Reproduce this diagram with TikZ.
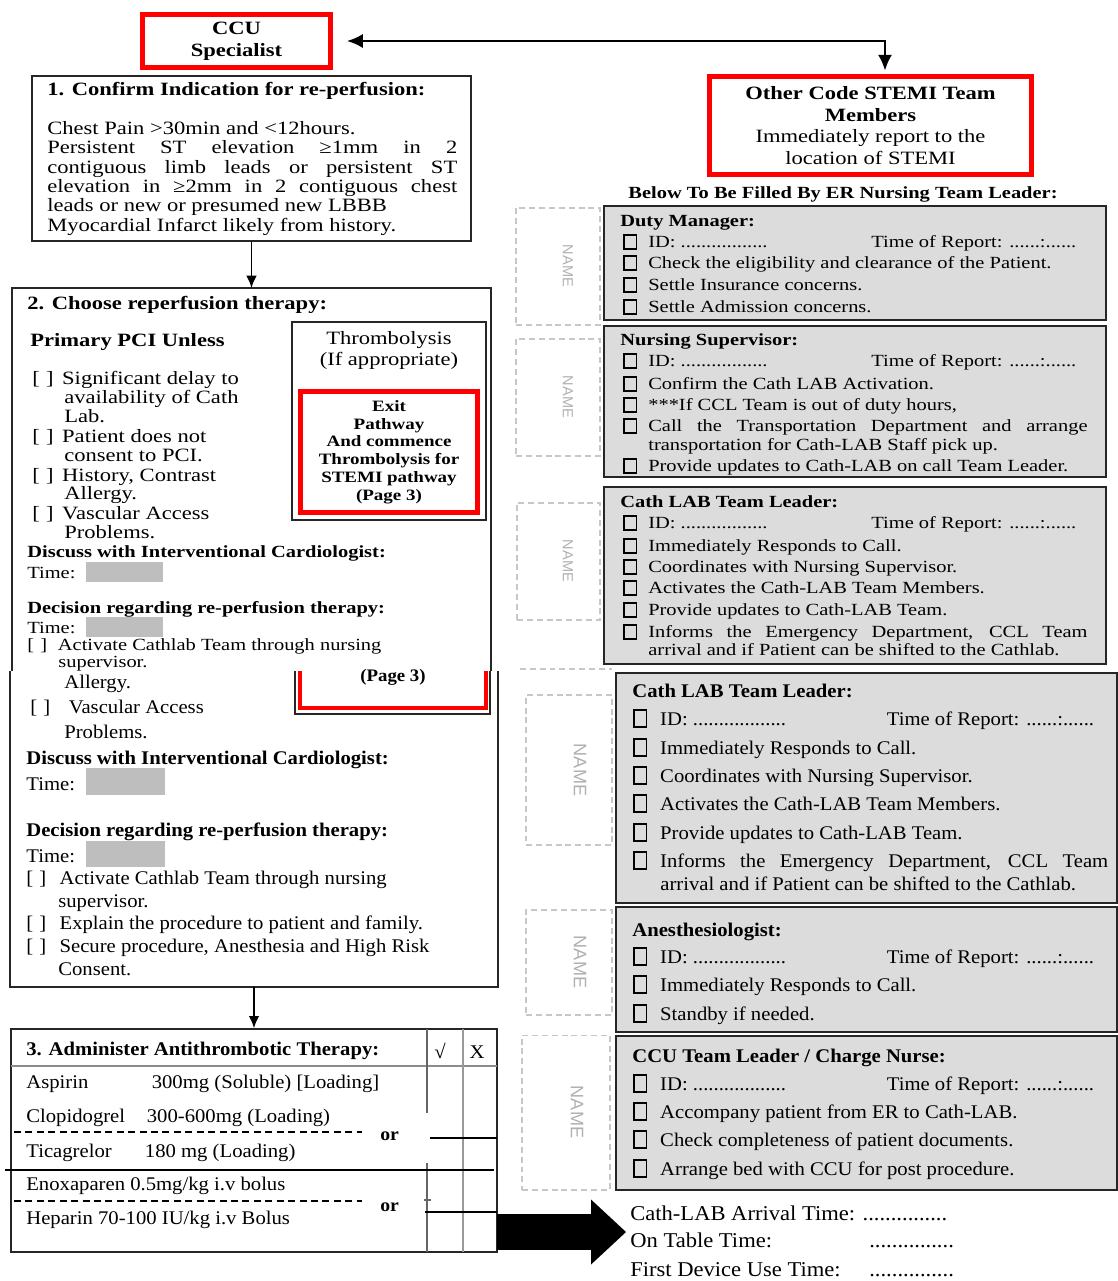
\documentclass[tikz,border=0pt]{standalone}
\usepackage{fontspec}
\setmainfont{Liberation Serif}
\newfontfamily\upfam{Liberation Serif}[FakeStretch=1.2]
\newfontfamily\lowfam{Liberation Serif}[FakeStretch=1.07]
\newfontfamily\namefam{Liberation Sans}
\usetikzlibrary{arrows.meta}

\definecolor{panelgray}{HTML}{DCDCDC}
\definecolor{fieldgray}{HTML}{BEBEBE}
\definecolor{namegray}{HTML}{B0B0B0}

\newcommand{\cbx}[1][7.2pt]{\raisebox{-0.8pt}{\setlength{\fboxsep}{0pt}\setlength{\fboxrule}{0.8pt}\fbox{\rule{0pt}{#1}\rule{6.2pt}{0pt}}}}
\newcommand{\bkt}[1][17pt]{\makebox[#1][l]{[\hspace{3.5pt}]}}
\newcommand{\upitem}{\makebox[14.2pt][l]{\cbx}}
\newcommand{\lowitem}{\makebox[15.3pt][l]{\cbx[9pt]}}
\newcommand{\updots}{\makebox[127pt][l]{ID: .................}Time of Report: ......:......}
\newcommand{\lowdots}{\makebox[129pt][l]{ID: ..................}Time of Report: ......:......}

\begin{document}
\begin{tikzpicture}
    [ x=0.02cm, y=-0.02cm
    , redbox/.style={draw=red, line width=2.8pt}
    , blackbox/.style={draw=black!85, line width=0.8pt}
    , panel/.style={draw=black!85, line width=0.9pt, fill=panelgray}
    , namebox/.style={draw=black!22, dash pattern=on 3.4pt off 2.2pt, line width=0.6pt}
    , nametxt/.style={font=\namefam\fontsize{8.3}{9}\selectfont, text=namegray, rotate=-90, inner sep=0pt}
    , field/.style={fill=fieldgray, inner sep=0pt}
    , utxt/.style={anchor=base west, inner sep=0pt, font=\upfam\fontsize{10.7}{12}\selectfont}
    , usmall/.style={utxt, font=\upfam\fontsize{9.7}{11}\selectfont}
    , rtxt/.style={utxt, font=\upfam\fontsize{9.7}{11}\selectfont}
    , ltxt/.style={anchor=base west, inner sep=0pt, font=\lowfam\fontsize{11}{13}\selectfont}
    , arr/.style={line width=1.1pt, -{Latex[length=7pt, width=6pt]}}
    , bigarr/.style={line width=20.4pt, -{Triangle[length=0.7cm, width=1.3cm, line width=0pt]}}
    ]
\useasboundingbox (0,0) rectangle (1117,1281);

% top boxes
\node[redbox, minimum width=3.76cm, minimum height=1.06cm, align=center, font=\upfam\fontsize{10.7}{12.5}\selectfont] (ccu) at (236.5,41) {\textbf{CCU}\\\textbf{Specialist}};
\node[redbox, line width=3.2pt, minimum width=6.44cm, minimum height=1.96cm, align=center, font=\upfam\fontsize{10.7}{12.3}\selectfont] (other) at (870.5,125.5) {\textbf{Other Code STEMI Team}\\\textbf{Members}\\Immediately report to the\\location of STEMI};
\draw[line width=1.4pt, {Latex[length=9pt, width=8pt]}-{Latex[length=9pt, width=8pt]}] ([xshift=0.28cm]ccu.east) -| ([xshift=0.29cm, yshift=0.06cm]other.north);

% step 1
\node[blackbox, minimum width=8.78cm, minimum height=3.3cm] (confirm) at (251.5,158.5) {};
\node[utxt] (c0) at (47,95) {\textbf{1. Confirm Indication for re-perfusion:}};
\node[utxt] (c1) at (47,134) {Chest Pain >30min and <12hours.};
\node[utxt] (c2) at (47,153) {\makebox[8.2cm][s]{Persistent ST elevation ≥1mm in 2}};
\node[utxt] (c3) at (47,173) {\makebox[8.2cm][s]{contiguous limb leads or persistent ST}};
\node[utxt] (c4) at (47,192) {\makebox[8.2cm][s]{elevation in ≥2mm in 2 contiguous chest}};
\node[utxt] (c5) at (47,211) {leads or new or presumed new LBBB};
\node[utxt] (c6) at (47,231) {Myocardial Infarct likely from history.};

% step 2 (upper part)
\node[minimum width=9.58cm, minimum height=7.66cm, inner sep=0pt, outer sep=0pt] (choose) at (251.5,479.5) {};
\draw[blackbox] (choose.south west) |- (choose.north) -| (choose.south east);
\draw[arr] (confirm.south) -- (choose.north);
\node[utxt] (p0) at (27,309) {\textbf{2. Choose reperfusion therapy:}};
\node[utxt] (p1) at (30,346) {\textbf{Primary PCI Unless}};
\node[utxt] (p2) at (32,384) {\bkt Significant delay to};
\node[utxt] (p2b) at (64,403) {availability of Cath};
\node[utxt] (p2c) at (64,422) {Lab.};
\node[utxt] (p3) at (32,442) {\bkt Patient does not};
\node[utxt] (p3b) at (64,461) {consent to PCI.};
\node[utxt] (p4) at (32,481) {\bkt History, Contrast};
\node[utxt] (p4b) at (64,499) {Allergy.};
\node[utxt] (p5) at (32,519) {\bkt Vascular Access};
\node[utxt] (p5b) at (64,538) {Problems.};
\node[usmall] (d1) at (27,557) {\textbf{Discuss with Interventional Cardiologist:}};
\node[usmall] (d1t) at (27,578) {Time:};
\node[field, minimum width=1.54cm, minimum height=0.4cm] (d1f) at (124.5,572) {};
\node[usmall] (d2) at (27,613) {\textbf{Decision regarding re-perfusion therapy:}};
\node[usmall] (d2t) at (27,633) {Time:};
\node[field, minimum width=1.54cm, minimum height=0.4cm] (d2f) at (124.5,627) {};
\node[usmall] (d3) at (27,650) {\bkt[14.5pt] Activate Cathlab Team through nursing};
\node[usmall] (d3b) at (58,667) {supervisor.};

\node[blackbox, minimum width=3.88cm, minimum height=3.96cm] (thromb) at (389,421) {};
\node[utxt, anchor=base] (th1) at (389,344) {Thrombolysis};
\node[utxt, anchor=base] (th2) at (389,365) {(If appropriate)};
\node[redbox, minimum width=3.54cm, minimum height=2.42cm, align=center, font=\upfam\bfseries\fontsize{9}{10.1}\selectfont] (exitp) at (389,452) {Exit\\Pathway\\And commence\\Thrombolysis for\\STEMI pathway\\(Page 3)};

% step 2 (lower part)
\node[minimum width=9.76cm, minimum height=6.32cm, inner sep=0pt, outer sep=0pt] (choose2) at (254,829) {};
\draw[blackbox] (choose2.north west) |- (choose2.south) -| (choose2.north east);
\draw[blackbox] (295,671) |- (490,714) -- (490,671);
\draw[red, line width=2.8pt] (300,671) |- (486,708) -- (486,671);
\node[ltxt, anchor=base, font=\lowfam\bfseries\fontsize{10}{12}\selectfont] (pg3) at (393,681) {(Page 3)};
\node[ltxt] (q1) at (64,688) {Allergy.};
\node[ltxt] (q2) at (30,713) {\bkt[19pt] Vascular Access};
\node[ltxt] (q2b) at (64,738) {Problems.};
\node[ltxt] (e1) at (26,764) {\textbf{Discuss with Interventional Cardiologist:}};
\node[ltxt] (e1t) at (26,790) {Time:};
\node[field, minimum width=1.58cm, minimum height=0.54cm] (e1f) at (125.5,781.5) {};
\node[ltxt] (e2) at (26,836) {\textbf{Decision regarding re-perfusion therapy:}};
\node[ltxt] (e2t) at (26,862) {Time:};
\node[field, minimum width=1.58cm, minimum height=0.52cm] (e2f) at (125.5,854) {};
\node[ltxt] (e3) at (26,884) {\bkt[16pt] Activate Cathlab Team through nursing};
\node[ltxt] (e3b) at (58,907) {supervisor.};
\node[ltxt] (e4) at (26,929) {\bkt[16pt] Explain the procedure to patient and family.};
\node[ltxt] (e5) at (26,952) {\bkt[16pt] Secure procedure, Anesthesia and High Risk};
\node[ltxt] (e5b) at (58,975) {Consent.};

% step 3
\node[blackbox, minimum width=9.72cm, minimum height=4.46cm] (therapy) at (254,1140.5) {};
\draw[arr] (choose2.south) -- (therapy.north);
\draw[black!45, line width=0.9pt] (11,1066) -- (497,1066);
\draw[black!60, line width=0.7pt] (427,1029) -- (427,1113) (427,1163) -- (427,1252) (424,1200) -- (431,1200);
\draw[black!40, line width=1.2pt] (463,1029) -- (463,1252);
\draw[line width=0.8pt] (430,1138) -- (497,1138) (425,1212) -- (497,1212) (5,1170) -- (494,1170);
\draw[dash pattern=on 4pt off 2.5pt, line width=0.7pt] (14,1132) -- (362,1132) (14,1201) -- (362,1201);
\node[ltxt] (t0) at (26,1055) {\textbf{3. Administer Antithrombotic Therapy:}};
\node[ltxt, anchor=base] (yes) at (440,1058) {√};
\node[ltxt, anchor=base] (no) at (477,1058) {X};
\node[ltxt] (t1) at (26,1088) {\makebox[71.4pt][l]{Aspirin}300mg (Soluble) [Loading]};
\node[ltxt] (t2) at (26,1122) {\makebox[68.6pt][l]{Clopidogrel}300-600mg (Loading)};
\node[ltxt] (t3) at (26,1157) {\makebox[67.5pt][l]{Ticagrelor}180 mg (Loading)};
\node[ltxt] (t4) at (26,1190) {Enoxaparen 0.5mg/kg i.v bolus};
\node[ltxt] (t5) at (26,1224) {Heparin 70-100 IU/kg i.v Bolus};
\node[ltxt, font=\lowfam\bfseries\fontsize{10.5}{12}\selectfont] (or1) at (380,1140) {or};
\node[ltxt, font=\lowfam\bfseries\fontsize{10.5}{12}\selectfont] (or2) at (380,1211) {or};

\coordinate (bigfrom) at (497,1232);
\coordinate (bigto) at (626,1232);
\draw[bigarr] (bigfrom) -- (bigto);
\node[ltxt, font=\lowfam\fontsize{12}{14}\selectfont] (arrive) at (630,1220) {Cath-LAB Arrival Time: ...............};
\node[ltxt, font=\lowfam\fontsize{12}{14}\selectfont] (ontable) at (630,1247) {\makebox[136pt][l]{On Table Time:}...............};
\node[ltxt, font=\lowfam\fontsize{12}{14}\selectfont] (device) at (630,1276) {\makebox[136pt][l]{First Device Use Time:}...............};

% team members
\node[rtxt, anchor=base, font=\upfam\bfseries\fontsize{9.7}{11}\selectfont] (below) at (843,198) {Below To Be Filled By ER Nursing Team Leader:};

\node[panel, minimum width=10.04cm, minimum height=2.28cm] (duty) at (855,263) {};
\node[namebox, minimum width=1.68cm, minimum height=2.34cm] (dutyname) at (558,266.5) {};
\node[nametxt] (dutynm) at (568,266) {NAME};
\node[rtxt] (dutyhd) at (620,226) {\textbf{Duty Manager:}};
\foreach \y/\entry [count=\i] in {247/{\updots}, 268/{Check the eligibility and clearance of the Patient.}, 290/{Settle Insurance concerns.}, 312/{Settle Admission concerns.}}
  \node[rtxt] (duty\i) at (623,\y) {\upitem\entry};

\node[panel, minimum width=10.04cm, minimum height=3.02cm] (nurse) at (855,401.5) {};
\node[namebox, minimum width=1.68cm, minimum height=2.34cm] (nursename) at (558,397.5) {};
\node[nametxt] (nursenm) at (568,397) {NAME};
\node[rtxt] (nursehd) at (620,345) {\textbf{Nursing Supervisor:}};
\foreach \y/\entry [count=\i] in {366/{\updots}, 389/{Confirm the Cath LAB Activation.}, 410/{***If CCL Team is out of duty hours,}, 431/{\makebox[250pt][s]{Call the Transportation Department and arrange}}, 471/{Provide updates to Cath-LAB on call Team Leader.}}
  \node[rtxt] (nurse\i) at (623,\y) {\upitem\entry};
\node[rtxt] (nurse4b) at (648,450) {transportation for Cath-LAB Staff pick up.};

\node[panel, minimum width=10.04cm, minimum height=3.54cm] (cath) at (855,575.5) {};
\node[namebox, minimum width=1.66cm, minimum height=2.34cm] (cathname) at (558.5,561.5) {};
\node[nametxt] (cathnm) at (568,561) {NAME};
\node[rtxt] (cathhd) at (620,507) {\textbf{Cath LAB Team Leader:}};
\foreach \y/\entry [count=\i] in {528/{\updots}, 551/{Immediately Responds to Call.}, 572/{Coordinates with Nursing Supervisor.}, 593/{Activates the Cath-LAB Team Members.}, 615/{Provide updates to Cath-LAB Team.}, 637/{\makebox[250pt][s]{Informs the Emergency Department, CCL Team}}}
  \node[rtxt] (cath\i) at (623,\y) {\upitem\entry};
\node[rtxt] (cath6b) at (648,655) {arrival and if Patient can be shifted to the Cathlab.};
\draw[namebox] (520,669) -- (612,669);

\node[panel, minimum width=10.02cm, minimum height=4.6cm] (lab) at (866.5,788) {};
\node[namebox, minimum width=1.72cm, minimum height=3cm] (labname) at (569,770) {};
\node[nametxt, font=\namefam\fontsize{10.3}{11}\selectfont] (labnm) at (580,770) {NAME};
\node[ltxt] (labhd) at (632,697) {\textbf{Cath LAB Team Leader:}};
\foreach \y/\entry [count=\i] in {725/{\lowdots}, 754/{Immediately Responds to Call.}, 782/{Coordinates with Nursing Supervisor.}, 810/{Activates the Cath-LAB Team Members.}, 839/{Provide updates to Cath-LAB Team.}, 867/{\makebox[255pt][s]{Informs the Emergency Department, CCL Team}}}
  \node[ltxt] (lab\i) at (633,\y) {\lowitem\entry};
\node[ltxt] (lab6b) at (660,890) {arrival and if Patient can be shifted to the Cathlab.};

\node[panel, minimum width=10.02cm, minimum height=2.5cm] (anest) at (866.5,969.5) {};
\node[namebox, minimum width=1.72cm, minimum height=2.1cm] (anestname) at (569,962.5) {};
\node[nametxt, font=\namefam\fontsize{10.3}{11}\selectfont] (anestnm) at (580,962) {NAME};
\node[ltxt] (anesthd) at (632,936) {\textbf{Anesthesiologist:}};
\foreach \y/\entry [count=\i] in {963/{\lowdots}, 991/{Immediately Responds to Call.}, 1020/{Standby if needed.}}
  \node[ltxt] (anest\i) at (633,\y) {\lowitem\entry};

\node[panel, minimum width=10.02cm, minimum height=3.08cm] (charge) at (866.5,1113) {};
\node[namebox, minimum width=1.76cm, minimum height=3.1cm] (chargename) at (566,1112.5) {};
\node[nametxt, font=\namefam\fontsize{10.3}{11}\selectfont] (chargenm) at (577,1112) {NAME};
\node[ltxt] (chargehd) at (632,1062) {\textbf{CCU Team Leader / Charge Nurse:}};
\foreach \y/\entry [count=\i] in {1090/{\lowdots}, 1118/{Accompany patient from ER to Cath-LAB.}, 1146/{Check completeness of patient documents.}, 1175/{Arrange bed with CCU for post procedure.}}
  \node[ltxt] (charge\i) at (633,\y) {\lowitem\entry};

\end{tikzpicture}
\end{document}
